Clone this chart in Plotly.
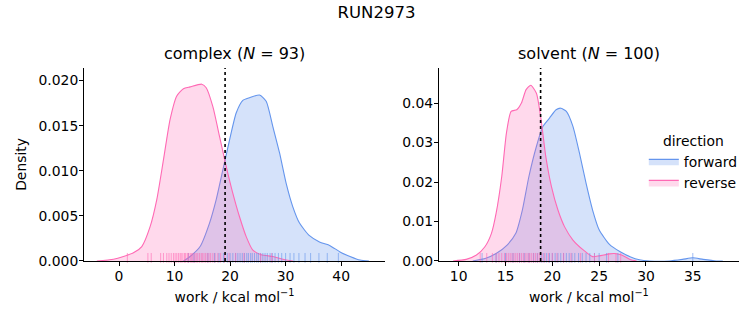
import plotly.graph_objects as go

# ---------------- data ----------------
title = "RUN2973"
phases = ["complex", "solvent"]
n_samples = [93, 100]

# KDE curves: complex
cx_rev = [-4.0, -1.0, 0.8, 2.6, 4.1, 5.6, 6.8, 8.0, 9.2, 10.4, 11.6, 12.8, 14.9, 15.7, 16.9,
          18.1, 19.3, 20.5, 21.7, 22.9, 24.1, 25.6, 27.7, 29.5, 31.3]
cy_rev = [0.0, 0.0002, 0.0005, 0.0009, 0.0016, 0.0038, 0.0068, 0.0112, 0.0157, 0.0183, 0.0191,
          0.0193, 0.0196, 0.0192, 0.0171, 0.0138, 0.0105, 0.0075, 0.0049, 0.0027, 0.0012,
          0.0007, 0.0005, 0.0002, 0.0]
cx_fwd = [11.6, 12.8, 14.6, 16.3, 17.5, 18.7, 19.9, 21.1, 22.3, 23.5, 25.3, 26.5, 27.7, 28.9,
          30.1, 31.3, 32.5, 34.3, 36.1, 38.0, 39.8, 41.6, 43.4, 45.0]
cy_fwd = [0.0, 0.0005, 0.0016, 0.0042, 0.0068, 0.0101, 0.0134, 0.0164, 0.0178, 0.0181, 0.0184,
          0.0177, 0.0149, 0.0120, 0.0086, 0.0060, 0.0042, 0.0028, 0.0021, 0.0017, 0.0010,
          0.0005, 0.0001, 0.0]

# KDE curves: solvent
sx_rev = [9.4, 10.8, 11.9, 12.8, 13.5, 14.0, 14.6, 15.1, 15.6, 16.2, 16.7, 17.2, 17.7, 18.3,
          18.8, 19.3, 19.9, 20.6, 21.3, 22.2, 23.3, 24.3, 25.0, 26.1, 26.6, 27.4, 28.3, 29.0]
sy_rev = [0.0, 0.0004, 0.0015, 0.0036, 0.0070, 0.0121, 0.0214, 0.0324, 0.0379, 0.0383, 0.0400,
          0.0434, 0.0445, 0.0425, 0.0358, 0.0265, 0.0189, 0.0129, 0.0087, 0.0053, 0.0028,
          0.0011, 0.0013, 0.0018, 0.0019, 0.0015, 0.0004, 0.0]
sx_fwd = [11.5, 12.9, 14.0, 15.2, 16.1, 16.8, 17.5, 18.3, 19.0, 19.7, 20.4, 20.9, 21.5, 22.2,
          22.9, 23.6, 24.3, 25.0, 26.1, 27.2, 28.3, 29.3, 30.4, 32.5, 33.9, 35.0, 36.1, 37.5, 38.2]
sy_fwd = [0.0, 0.0007, 0.0019, 0.0041, 0.0070, 0.0129, 0.0214, 0.0290, 0.0341, 0.0362, 0.0383,
          0.0387, 0.0379, 0.0341, 0.0273, 0.0197, 0.0129, 0.0079, 0.0042, 0.0024, 0.0011,
          0.0003, 0.0, 0.0, 0.0004, 0.0008, 0.0004, 0.0, 0.0]

# rug (individual work values, estimated)
rug_c_rev = [1.5, 5.2, 5.8, 7.5, 8.0, 8.6, 9.0, 9.4, 9.8, 10.1, 10.4, 10.7, 11.0, 11.2, 11.5,
             11.8, 12.0, 12.3, 12.5, 12.8, 13.0, 13.2, 13.5, 13.7, 14.0, 14.2, 14.5, 14.8,
             15.0, 15.3, 15.6, 15.9, 16.2, 16.5, 16.9, 17.3, 17.8, 18.3, 19.0, 19.8, 21.0,
             22.5, 25.5, 27.5]
rug_c_fwd = [12.5, 13.5, 16.0, 17.2, 18.0, 18.8, 19.5, 20.0, 20.5, 21.0, 21.4, 21.8, 22.2,
             22.6, 23.0, 23.3, 23.7, 24.0, 24.4, 24.8, 25.1, 25.5, 25.9, 26.3, 26.7, 27.2,
             27.6, 28.1, 28.7, 29.3, 30.0, 30.8, 31.5, 32.4, 33.5, 34.5, 36.0, 37.5, 39.5]
rug_s_rev = [12.3, 13.0, 13.6, 14.0, 14.3, 14.6, 14.9, 15.1, 15.3, 15.5, 15.7, 15.9, 16.1,
             16.3, 16.5, 16.7, 16.9, 17.1, 17.3, 17.5, 17.6, 17.8, 18.0, 18.2, 18.4, 18.6,
             18.9, 19.2, 19.6, 20.0, 20.5, 21.2, 22.0, 23.0, 24.5, 26.0, 26.8, 27.3]
rug_s_fwd = [12.5, 14.0, 15.0, 15.8, 16.5, 17.0, 17.5, 18.0, 18.4, 18.8, 19.1, 19.4, 19.7,
             20.0, 20.3, 20.6, 20.9, 21.2, 21.5, 21.8, 22.1, 22.4, 22.8, 23.2, 23.6, 24.0,
             24.5, 25.0, 25.8, 27.0, 35.0]

# free-energy estimates (dotted lines)
dg_values = [19.1, 18.75]

x_ticks = [[0, 10, 20, 30, 40], [10, 15, 20, 25, 30, 35]]
y_ticks = [[0.0, 0.005, 0.010, 0.015, 0.020], [0.0, 0.01, 0.02, 0.03, 0.04]]
y_fmt = [".3f", ".2f"]
x_ranges = [[-6.3, 47.9], [7.9, 39.9]]
y_ranges = [[0, 0.0214], [0, 0.0489]]

# ---------------- styling ----------------
BLUE = "#6495ED"
PINK = "#FF69B4"
BLUE_FILL = "rgba(100,149,237,0.27)"
PINK_FILL = "rgba(255,105,180,0.25)"
FONT = "DejaVu Sans"
FS = 13.9
DOM_L = [0.1116, 0.5113]
DOM_R = [0.583, 0.981]

fig = go.Figure()

curves = [
    [(cx_fwd, cy_fwd, rug_c_fwd), (cx_rev, cy_rev, rug_c_rev)],
    [(sx_fwd, sy_fwd, rug_s_fwd), (sx_rev, sy_rev, rug_s_rev)],
]
names = ["forward", "reverse"]
lines = [BLUE, PINK]
fills = [BLUE_FILL, PINK_FILL]

for p in range(2):
    xa = "x" if p == 0 else "x2"
    ya = "y" if p == 0 else "y2"
    for d in range(2):
        xs, ys, rug = curves[p][d]
        fig.add_trace(go.Scatter(
            x=xs, y=ys, mode="lines", line=dict(color=lines[d], width=1.1, shape="spline", smoothing=0.6),
            fill="tozeroy", fillcolor=fills[d], name=names[d], legendgroup=names[d],
            showlegend=(p == 0), xaxis=xa, yaxis=ya, hoverinfo="skip"))
    for d in range(2):
        xs, ys, rug = curves[p][d]
        fig.add_trace(go.Scatter(
            x=rug, y=[y_ranges[p][1] * 0.016] * len(rug), mode="markers",
            marker=dict(symbol="line-ns", size=7, line=dict(color=lines[d], width=1), opacity=0.6),
            showlegend=False, xaxis=xa, yaxis=ya, hoverinfo="skip", cliponaxis=False))
    fig.add_shape(type="line", x0=dg_values[p], x1=dg_values[p], y0=0, y1=1,
                  xref=xa, yref=ya + " domain",
                  line=dict(color="black", width=1.6, dash="dot"))

axis_common = dict(showline=True, linecolor="black", linewidth=1, ticks="outside",
                   ticklen=4, tickcolor="black", tickwidth=1, showgrid=False, zeroline=False,
                   automargin=False, ticklabelstandoff=-2,
                   tickfont=dict(size=FS, color="black", family=FONT))

fig.update_layout(
    template="none",
    width=753, height=325,
    margin=dict(l=0, r=0, t=0, b=0, autoexpand=False),
    paper_bgcolor="white", plot_bgcolor="white",
    font=dict(family=FONT, color="black"),
    title=dict(text=title, x=0.5, xanchor="center", y=0.962, yanchor="middle",
               font=dict(size=16.5, family=FONT, color="black")),
    xaxis=dict(domain=DOM_L, range=x_ranges[0], tickvals=x_ticks[0],
               title=dict(text="work / kcal mol<sup>−1</sup>", font=dict(size=FS), standoff=9),
               anchor="y", **axis_common),
    yaxis=dict(domain=[0.197, 0.791], range=y_ranges[0], tickvals=y_ticks[0], tickformat=y_fmt[0],
               title=dict(text="Density", font=dict(size=FS), standoff=8), anchor="x", **axis_common),
    xaxis2=dict(domain=DOM_R, range=x_ranges[1], tickvals=x_ticks[1],
                title=dict(text="work / kcal mol<sup>−1</sup>", font=dict(size=FS), standoff=9),
                anchor="y2", **axis_common),
    yaxis2=dict(domain=[0.197, 0.791], range=y_ranges[1], tickvals=y_ticks[1], tickformat=y_fmt[1],
                anchor="x2", **axis_common),
    legend=dict(title=dict(text="direction", side="top center", font=dict(size=FS)),
                x=0.855, y=0.607, xanchor="left", yanchor="top",
                bgcolor="rgba(0,0,0,0)", font=dict(size=FS, family=FONT), tracegroupgap=0,
                itemwidth=30),
)

for p in range(2):
    dom = DOM_L if p == 0 else DOM_R
    cx = (dom[0] + dom[1]) / 2
    fig.add_annotation(text=f"{phases[p]} (<i>N</i> = {n_samples[p]})", x=cx, y=0.834,
                       xref="paper", yref="paper", xanchor="center", yanchor="middle",
                       showarrow=False, font=dict(size=16, family=FONT, color="black"))

fig.write_html("out.html")
